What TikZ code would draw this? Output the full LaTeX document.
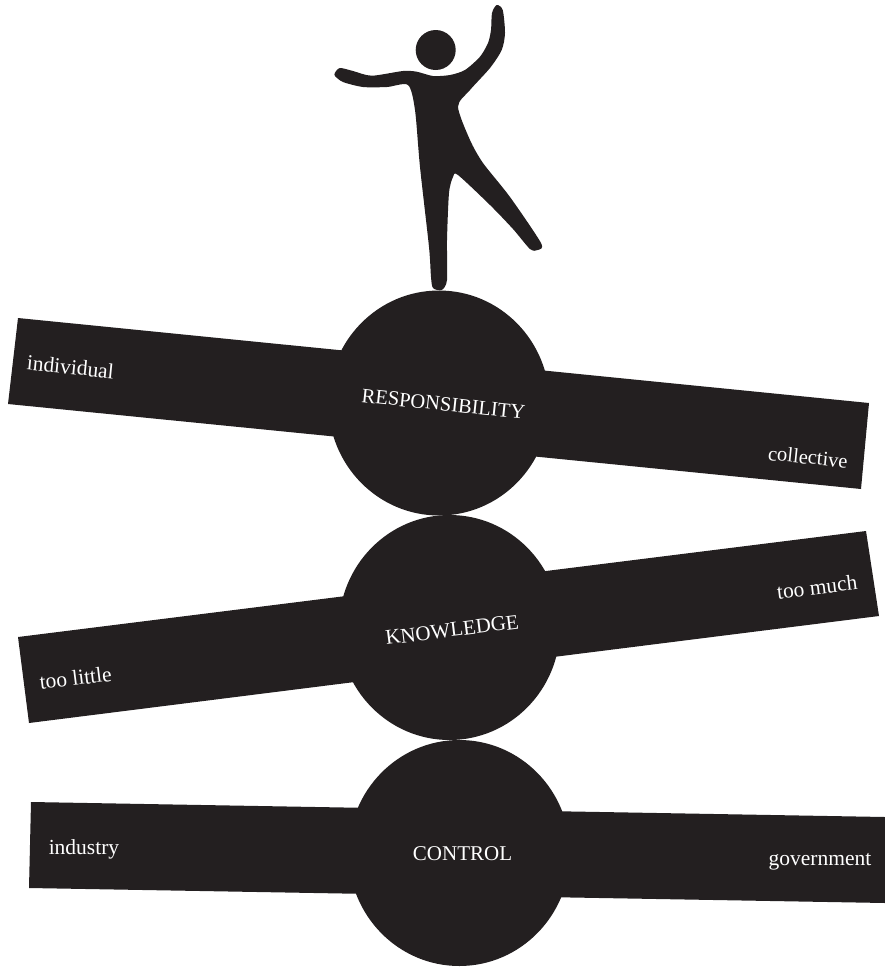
\documentclass[tikz,border=0pt]{standalone}
\usepackage{fontspec}
\setmainfont{Liberation Serif}
\usepackage{xcolor}
\definecolor{barblack}{HTML}{231F20}
\tikzset{
    barlabel/.style={text=white, font=\fontsize{21.5}{25}\selectfont, inner sep=0pt},
    balllabel/.style={text=white, font=\fontsize{21}{25}\selectfont, inner sep=0pt}
}

\begin{document}
\begin{tikzpicture}[x=1pt, y=-1pt]
    \useasboundingbox (0,0) rectangle (885,967);

    %figure
    \fill[barblack] (435.7,50) circle (20);
    \fill[barblack] plot[smooth cycle, tension=0.45] coordinates {
        (335,72.7) (340,68) (353,71) (371.7,75.7) (403,71) (416.7,71.7) (433,76) (450,75)
        (465,70) (480,56.7) (488,43) (491,30) (492,13) (496.7,5) (502.7,10) (505,33)
        (501.7,50) (490,68) (470,90) (458,106.7) (470,140) (483,163) (510,197) (541,243)
        (537.7,250) (530,249) (513,229) (490,205) (458,175) (453,177) (449,193) (447,240)
        (447,280) (441.7,290) (433,288) (431,277) (429,247) (420,167) (415,110) (408,85)
        (387,87) (363,87) (343,82) (335,76)};

    %bars
    \fill[barblack] (18,318) -- (869,403) -- (861,489) -- (8,404) -- cycle;
    \fill[barblack] (18,637) -- (866,531) -- (879,616) -- (29,723) -- cycle;
    \fill[barblack] (31,802) -- (885,817) -- (885,903) -- (29,888) -- cycle;

    %balls
    \fill[barblack] (439,403) ellipse (110.5 and 112.5);
    \fill[barblack] (449.5,627.5) ellipse (110.5 and 112.5);
    \fill[barblack] (459.3,853) ellipse (110.7 and 113);

    \node[balllabel, rotate=-6, font=\fontsize{20.5}{25}\selectfont] (responsibility) at (443.5,404) {RESPONSIBILITY};
    \node[balllabel, rotate=7] (knowledge) at (452,630) {KNOWLEDGE};
    \node[balllabel] (control) at (462.5,854) {CONTROL};

    \node[barlabel, rotate=-5.7] (individual) at (70.5,367) {individual};
    \node[barlabel, rotate=-5.7, font=\fontsize{20.5}{25}\selectfont] (collective) at (808,457) {collective};
    \node[barlabel, rotate=7] (toolittle) at (75.5,678) {too little};
    \node[barlabel, rotate=7] (toomuch) at (817,587) {too much};
    \node[barlabel] (industry) at (84,849) {industry};
    \node[barlabel] (government) at (820,862) {government};
\end{tikzpicture}
\end{document}
